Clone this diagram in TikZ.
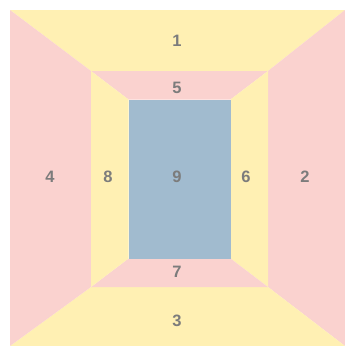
\documentclass[tikz,border=0pt]{standalone}
\usepackage{fontspec}
\setmainfont{Liberation Sans}
\definecolor{ylw}{HTML}{FFF0B3}
\definecolor{pnk}{HTML}{FAD2CF}
\definecolor{blu}{HTML}{A1BBCF}
\definecolor{txt}{HTML}{7C7C7C}
\begin{document}
\begin{tikzpicture}[x=1pt,y=-1pt,
  lbl/.style={text=txt,font=\bfseries\fontsize{16.5}{18}\selectfont,inner sep=0pt}]
\useasboundingbox (0,0) rectangle (345,346);
\coordinate (A1) at (10,10); \coordinate (A2) at (345,10);
\coordinate (A3) at (345,346); \coordinate (A4) at (10,346);
\coordinate (B1) at (91,71); \coordinate (B2) at (268,71);
\coordinate (B3) at (268,287); \coordinate (B4) at (91,287);
\coordinate (C1) at (128.5,99.5); \coordinate (C2) at (230.5,99.5);
\coordinate (C3) at (230.5,258.5); \coordinate (C4) at (128.5,258.5);
\fill[ylw] (A1)--(A2)--(B2)--(B1)--cycle;
\fill[pnk] (A2)--(A3)--(B3)--(B2)--cycle;
\fill[ylw] (A3)--(A4)--(B4)--(B3)--cycle;
\fill[pnk] (A4)--(A1)--(B1)--(B4)--cycle;
\fill[pnk] (B1)--(B2)--(C2)--(C1)--cycle;
\fill[ylw] (B2)--(B3)--(C3)--(C2)--cycle;
\fill[pnk] (B3)--(B4)--(C4)--(C3)--cycle;
\fill[ylw] (B4)--(B1)--(C1)--(C4)--cycle;
\fill[blu] (C1) rectangle (C3);
\node[lbl] (n1) at (177,41) {1};
\node[lbl] (n2) at (305,177) {2};
\node[lbl] (n3) at (177,321) {3};
\node[lbl] (n4) at (50,177) {4};
\node[lbl] (n5) at (177,88) {5};
\node[lbl] (n6) at (246,177) {6};
\node[lbl] (n7) at (177,272) {7};
\node[lbl] (n8) at (108,177) {8};
\node[lbl] (n9) at (177,177) {9};
\end{tikzpicture}
\end{document}
